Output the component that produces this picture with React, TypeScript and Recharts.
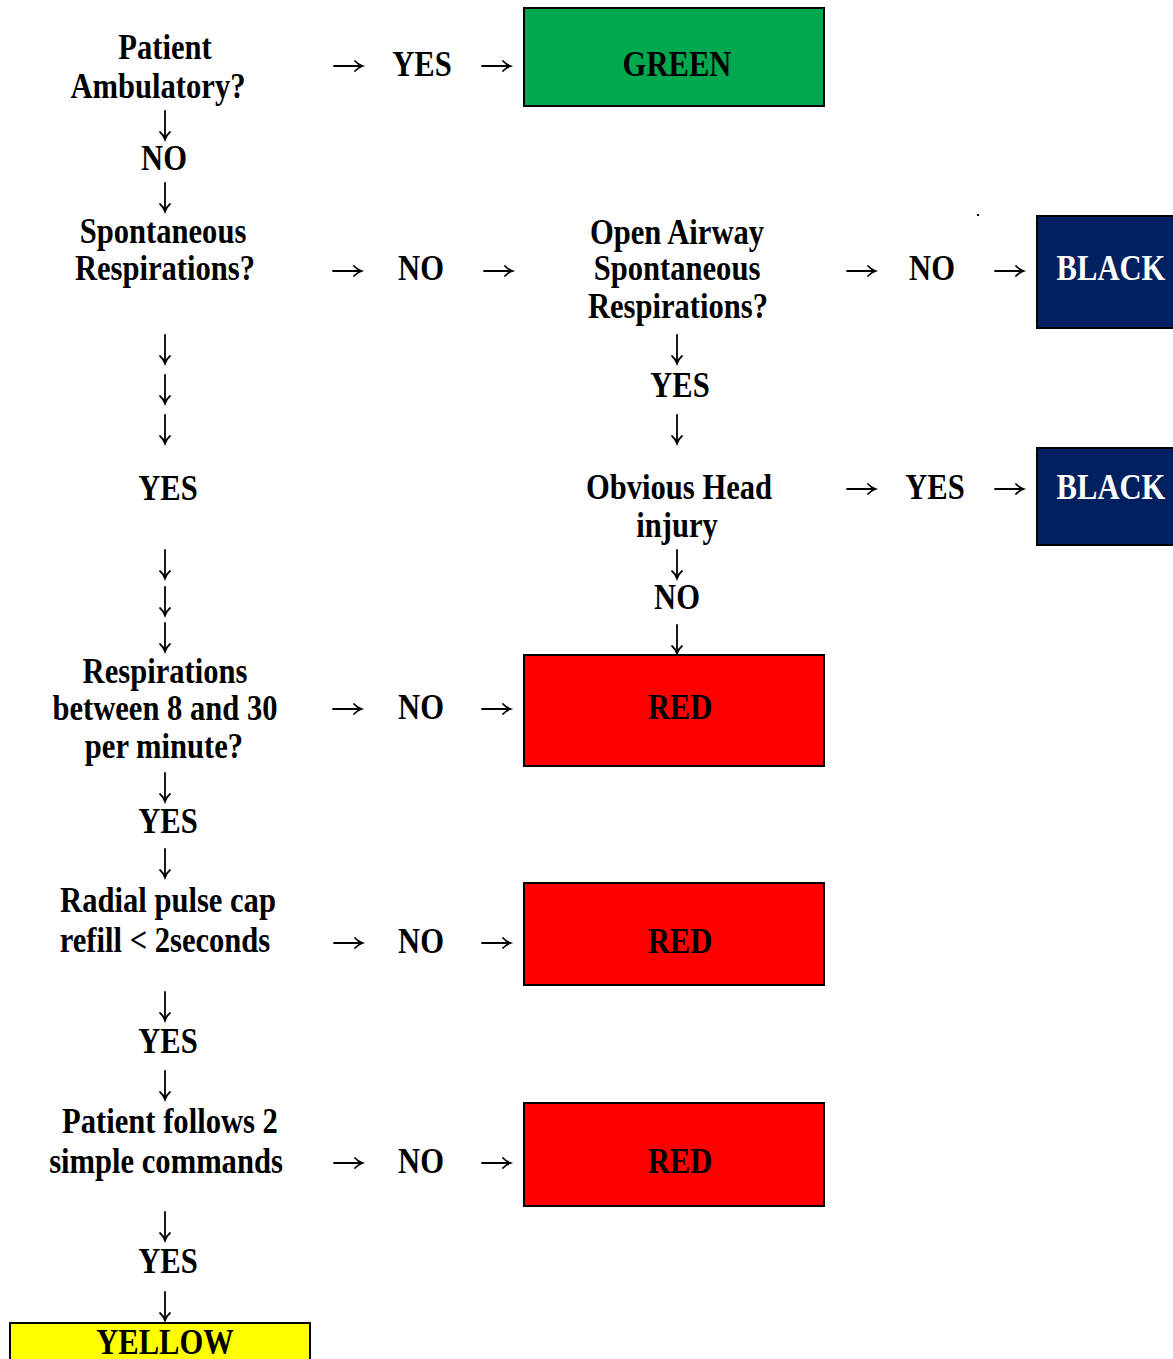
import { ScatterChart, Scatter, XAxis, YAxis, ReferenceArea } from 'recharts';

const WIDTH = 1173;
const HEIGHT = 1359;

// decision questions, one entry per printed line (x = centre, y = middle of the caps)
const questionLines = [
  { x: 165, y: 47, text: 'Patient' },
  { x: 158, y: 86, text: 'Ambulatory?' },
  { x: 163, y: 231, text: 'Spontaneous' },
  { x: 165, y: 268, text: 'Respirations?' },
  { x: 165, y: 671, text: 'Respirations' },
  { x: 165, y: 708, text: 'between 8 and 30' },
  { x: 164, y: 746, text: 'per minute?' },
  { x: 168, y: 900, text: 'Radial pulse cap' },
  { x: 165, y: 940, text: 'refill < 2seconds' },
  { x: 170, y: 1121, text: 'Patient follows 2' },
  { x: 166, y: 1161, text: 'simple commands' },
  { x: 677, y: 232, text: 'Open Airway' },
  { x: 677, y: 268, text: 'Spontaneous' },
  { x: 678, y: 306, text: 'Respirations?' },
  { x: 679, y: 487, text: 'Obvious Head' },
  { x: 677, y: 525, text: 'injury' },
];

// YES / NO answers
const answerLabels = [
  { x: 164, y: 158, text: 'NO' },
  { x: 168, y: 488, text: 'YES' },
  { x: 168, y: 821, text: 'YES' },
  { x: 168, y: 1041, text: 'YES' },
  { x: 168, y: 1261, text: 'YES' },
  { x: 422, y: 64, text: 'YES' },
  { x: 421, y: 268, text: 'NO' },
  { x: 421, y: 707, text: 'NO' },
  { x: 421, y: 941, text: 'NO' },
  { x: 421, y: 1161, text: 'NO' },
  { x: 680, y: 385, text: 'YES' },
  { x: 677, y: 597, text: 'NO' },
  { x: 932, y: 268, text: 'NO' },
  { x: 935, y: 487, text: 'YES' },
];

const rightArrows = [
  { x: 348, y: 66 }, { x: 496, y: 66 },
  { x: 347, y: 271 }, { x: 498, y: 271 }, { x: 861, y: 271 }, { x: 1009, y: 271 },
  { x: 861, y: 489 }, { x: 1009, y: 489 },
  { x: 347, y: 709 }, { x: 496, y: 709 },
  { x: 348, y: 943 }, { x: 496, y: 943 },
  { x: 348, y: 1163 }, { x: 496, y: 1163 },
];

const downArrows = [
  { x: 165, y: 125 }, { x: 165, y: 197 },
  { x: 165, y: 349 }, { x: 165, y: 389 }, { x: 165, y: 429 },
  { x: 165, y: 564 }, { x: 165, y: 601 }, { x: 165, y: 637 },
  { x: 165, y: 787 }, { x: 165, y: 863 },
  { x: 165, y: 1006 }, { x: 165, y: 1085 },
  { x: 165, y: 1226 }, { x: 165, y: 1306 },
  { x: 677, y: 349 }, { x: 677, y: 429 },
  { x: 677, y: 564 }, { x: 677, y: 639 },
];

// triage outcomes
const outcomeBoxes = [
  { label: 'GREEN', x1: 524, x2: 824, y1: 8, y2: 106, labelX: 677, labelY: 64 },
  { label: 'BLACK', x1: 1037, x2: 1180, y1: 216, y2: 328, labelX: 1111, labelY: 268 },
  { label: 'BLACK', x1: 1037, x2: 1180, y1: 448, y2: 545, labelX: 1111, labelY: 487 },
  { label: 'RED', x1: 524, x2: 824, y1: 655, y2: 766, labelX: 680, labelY: 707 },
  { label: 'RED', x1: 524, x2: 824, y1: 883, y2: 985, labelX: 680, labelY: 941 },
  { label: 'RED', x1: 524, x2: 824, y1: 1103, y2: 1206, labelX: 680, labelY: 1161 },
  { label: 'YELLOW', x1: 10, x2: 310, y1: 1323, y2: 1370, labelX: 165, labelY: 1342 },
];

const strayDots = [{ x: 978, y: 215 }];

const outcomeFill: Record<string, string> = {
  GREEN: '#00a94f',
  BLACK: '#002060',
  RED: '#ff0000',
  YELLOW: '#ffff00',
};

const outcomeText: Record<string, string> = {
  GREEN: '#000',
  BLACK: '#fff',
  RED: '#000',
  YELLOW: '#000',
};

const FONT = "'Liberation Serif', 'Times New Roman', serif";
const FONT_SIZE = 36;
const SQUEEZE = 0.85;

function BoldText({ cx, cy, text, color = '#000' }: { cx: number; cy: number; text: string; color?: string }) {
  return (
    <g transform={`translate(${cx},${cy + 12}) scale(${SQUEEZE},1)`}>
      <text
        x={0}
        y={0}
        textAnchor="middle"
        fontFamily={FONT}
        fontWeight="bold"
        fontSize={FONT_SIZE}
        fill={color}
      >
        {text}
      </text>
    </g>
  );
}

const TextShape = (props: any) => {
  const { cx, cy, payload } = props;
  return <BoldText cx={cx} cy={cy} text={payload.text} />;
};

const RightArrow = (props: any) => {
  const { cx, cy } = props;
  return (
    <g stroke="#000" strokeWidth={1.8} fill="none" strokeLinecap="round">
      <path d={`M${cx - 14},${cy} L${cx + 14},${cy}`} />
      <path d={`M${cx + 7},${cy - 5} Q${cx + 10},${cy - 1.5} ${cx + 14.5},${cy} Q${cx + 10},${cy + 1.5} ${cx + 7},${cy + 5}`} />
    </g>
  );
};

const DownArrow = (props: any) => {
  const { cx, cy } = props;
  return (
    <g stroke="#000" strokeWidth={1.8} fill="none" strokeLinecap="round">
      <path d={`M${cx},${cy - 14} L${cx},${cy + 14}`} />
      <path d={`M${cx - 5},${cy + 7} Q${cx - 1.5},${cy + 10} ${cx},${cy + 14.5} Q${cx + 1.5},${cy + 10} ${cx + 5},${cy + 7}`} />
    </g>
  );
};

const DotShape = (props: any) => {
  const { cx, cy } = props;
  return <rect x={cx - 1} y={cy - 1} width={2} height={2} fill="#000" />;
};

function boxLabel(box: (typeof outcomeBoxes)[number]) {
  return (props: any) => {
    const vb = props.viewBox;
    if (!vb) return null;
    const sx = vb.width / (box.x2 - box.x1);
    const sy = vb.height / (box.y2 - box.y1);
    const cx = vb.x + (box.labelX - box.x1) * sx;
    const cy = vb.y + (box.labelY - box.y1) * sy;
    return <BoldText cx={cx} cy={cy} text={box.label} color={outcomeText[box.label]} />;
  };
}

export default function App() {
  return (
    <div style={{ position: 'absolute', left: 0, top: 0, background: '#fff' }}>
      <ScatterChart
        width={WIDTH}
        height={HEIGHT}
        margin={{ top: 0, right: 0, bottom: 0, left: 0 }}
      >
        <XAxis type="number" dataKey="x" domain={[0, WIDTH]} hide allowDataOverflow />
        <YAxis type="number" dataKey="y" domain={[0, HEIGHT]} reversed hide allowDataOverflow />
        {outcomeBoxes.map((box, i) => (
          <ReferenceArea
            key={`box-${i}`}
            x1={box.x1}
            x2={box.x2}
            y1={box.y1}
            y2={box.y2}
            ifOverflow="visible"
            fill={outcomeFill[box.label]}
            fillOpacity={1}
            stroke="#000"
            strokeWidth={2}
            label={{ content: boxLabel(box) }}
          />
        ))}
        <Scatter data={questionLines} shape={TextShape} isAnimationActive={false} />
        <Scatter data={answerLabels} shape={TextShape} isAnimationActive={false} />
        <Scatter data={rightArrows} shape={RightArrow} isAnimationActive={false} />
        <Scatter data={downArrows} shape={DownArrow} isAnimationActive={false} />
        <Scatter data={strayDots} shape={DotShape} isAnimationActive={false} />
      </ScatterChart>
    </div>
  );
}
